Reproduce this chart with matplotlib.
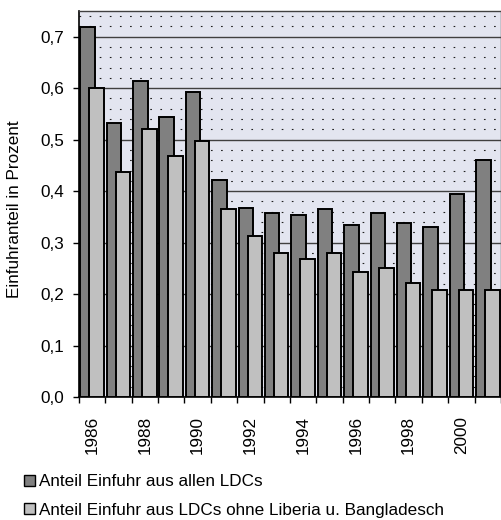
import matplotlib
matplotlib.use("Agg")
import matplotlib.pyplot as plt
import numpy as np
from matplotlib.patches import Patch
from matplotlib.ticker import FixedLocator, FuncFormatter, NullFormatter

plt.rcParams['font.family'] = ['Liberation Sans', 'DejaVu Sans']

years = list(range(1986, 2002))
alle_ldcs = [0.719, 0.532, 0.614, 0.543, 0.593, 0.422, 0.368, 0.358, 0.353, 0.366,
             0.335, 0.357, 0.339, 0.330, 0.394, 0.461]
ohne_lib_bang = [0.600, 0.438, 0.521, 0.468, 0.497, 0.366, 0.312, 0.280, 0.269, 0.280,
                 0.242, 0.250, 0.222, 0.208, 0.207, 0.207]
year_labels = [str(y) if y % 2 == 0 else "" for y in years]
legend_labels = ["Anteil Einfuhr aus allen LDCs",
                 "Anteil Einfuhr aus LDCs ohne Liberia u. Bangladesch"]

dark = "#808080"
light = "#c0c0c0"
bg = "#e3e5f0"
fs = 12.3

fig = plt.figure(figsize=(5.02, 5.20), dpi=100)
ax = fig.add_axes([0.157, 0.2365, 0.841, 0.7425])
ax.set_facecolor(bg)

x = np.arange(len(years))
w = 0.55
off = 0.17
ax.bar(x - off, alle_ldcs, width=w, color=dark, edgecolor="black", linewidth=1.4, zorder=3)
ax.bar(x + off, ohne_lib_bang, width=w, color=light, edgecolor="black", linewidth=1.4, zorder=4)

ax.set_xlim(-0.5, len(years) - 0.5)
ax.set_ylim(0, 0.75)

# solid major gridlines and dashed minor gridlines
for v in np.arange(0.1, 0.75, 0.1):
    ax.axhline(v, color="#404040", linewidth=1.0, zorder=1)
for v in np.arange(0.02, 0.75, 0.02):
    if abs(v * 10 - round(v * 10)) > 1e-6:
        ax.axhline(v, color="#202020", linewidth=0.8, linestyle=(0, (1.5, 7.6)), zorder=1)

ax.yaxis.set_major_locator(FixedLocator(np.arange(0, 0.71, 0.1)))
ax.yaxis.set_major_formatter(FuncFormatter(lambda v, p: f"{v:.1f}".replace(".", ",")))
ax.tick_params(axis="y", direction="out", length=4.3, width=1, labelsize=fs, pad=6, colors="black")

ax.set_xticks(np.arange(-0.5, len(years), 1.0))
ax.xaxis.set_major_formatter(NullFormatter())
ax.set_xticks(x, minor=True)
ax.set_xticklabels(year_labels, minor=True, rotation=90, fontsize=fs)
ax.tick_params(axis="x", which="major", direction="out", length=4.3, width=1)
ax.tick_params(axis="x", which="minor", length=0, pad=13.5)

for s in ["left", "bottom"]:
    ax.spines[s].set_color("black")
    ax.spines[s].set_linewidth(1.2)
for s in ["top", "right"]:
    ax.spines[s].set_color("#404040")
    ax.spines[s].set_linewidth(1.0)

fig.text(15 / 502, 1 - 209 / 520, "Einfuhranteil in Prozent", rotation=90,
         ha="center", va="center", fontsize=fs)

handles = [Patch(facecolor=dark, edgecolor="black", linewidth=1.0),
           Patch(facecolor=light, edgecolor="black", linewidth=1.0)]
fig.legend(handles, legend_labels, loc="upper left", bbox_to_anchor=(0.048, 0.088),
           frameon=False, fontsize=fs, handlelength=0.65, handleheight=0.65,
           handletextpad=0.25, labelspacing=0.78, borderpad=0, borderaxespad=0)

fig.savefig("out.png", dpi=100)
